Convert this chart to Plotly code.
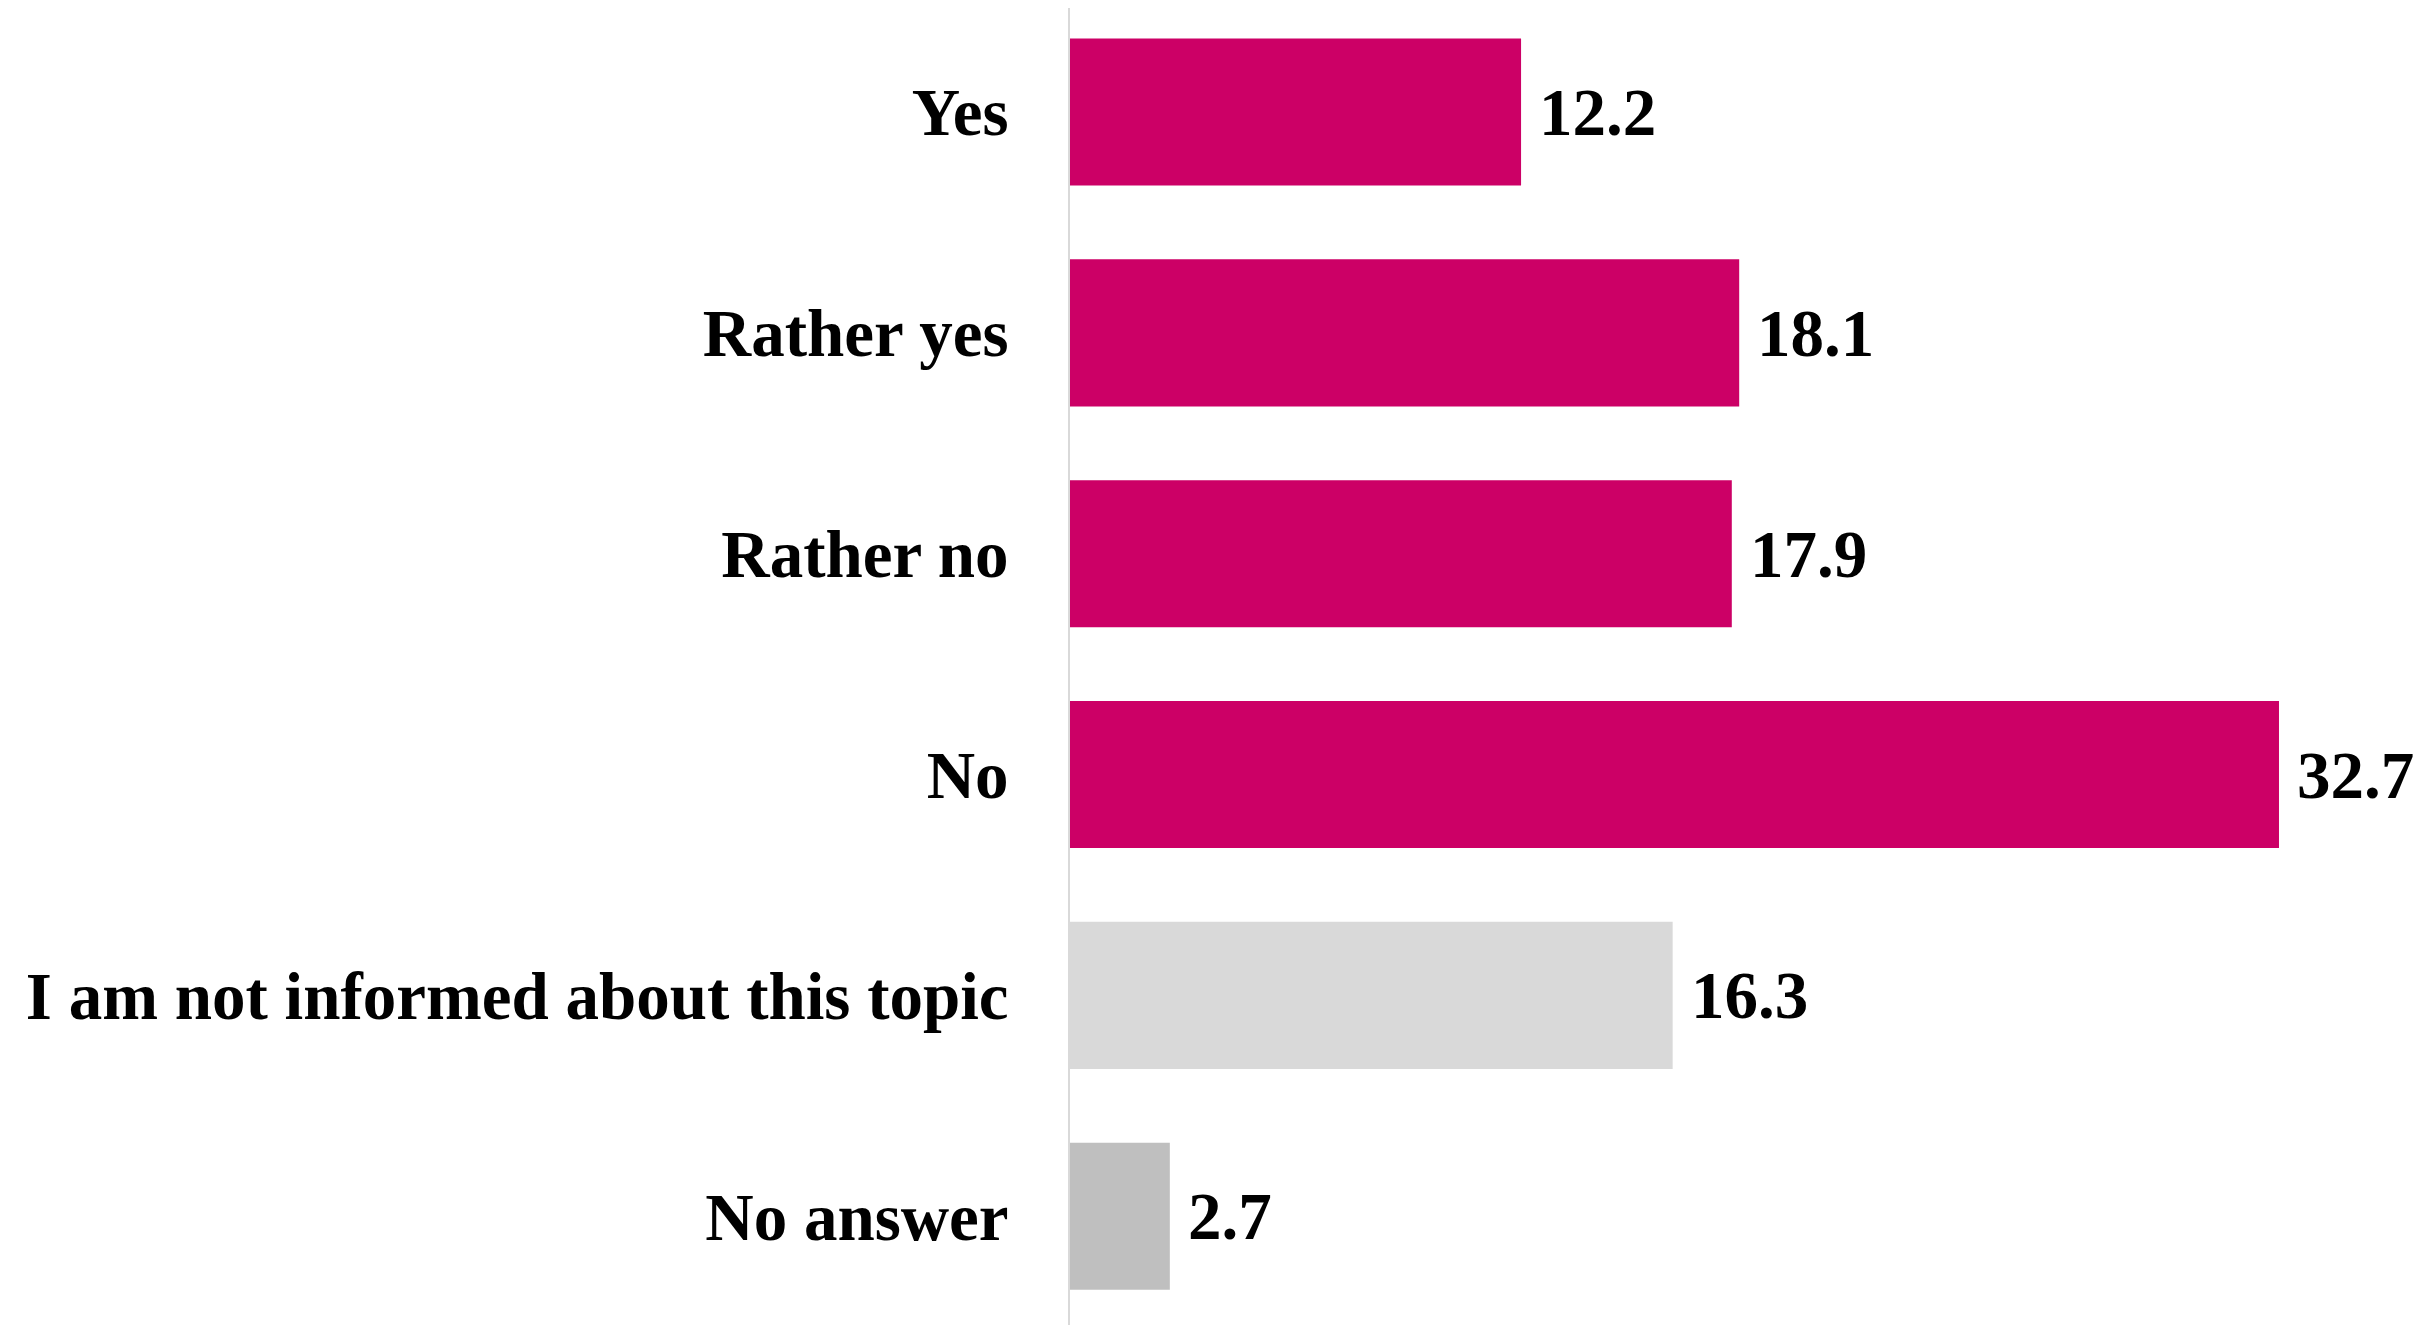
import plotly.graph_objects as go

categories = ['Yes', 'Rather yes', 'Rather no', 'No',
              'I am not informed about this topic', 'No answer']
values = [12.2, 18.1, 17.9, 32.7, 16.3, 2.7]
colors = ['#CC0066', '#CC0066', '#CC0066', '#CC0066', '#D9D9D9', '#BFBFBF']

FONT = 'Liberation Serif'

fig = go.Figure()
fig.add_trace(go.Bar(
    x=values,
    y=categories,
    orientation='h',
    marker=dict(color=colors, line=dict(width=0)),
    hoverinfo='skip',
))

# value labels to the right of each bar
for cat, val in zip(categories, values):
    fig.add_annotation(
        x=val, y=cat,
        text=f'{val:.1f}',
        showarrow=False,
        xanchor='left',
        xshift=16,
        font=dict(family=FONT, size=67, color='black', weight='bold'),
    )

fig.update_layout(
    width=2428, height=1325,
    margin=dict(l=1062, r=35, t=0, b=0),
    plot_bgcolor='white',
    paper_bgcolor='white',
    bargap=0.334,
    showlegend=False,
)
fig.update_xaxes(range=[0, 36], visible=False)
fig.update_yaxes(
    range=[5.529, -0.471],
    showline=True, linecolor='#D9D9D9', linewidth=2,
    showgrid=False, ticks='',
    ticklabelstandoff=46,
    tickfont=dict(family=FONT, size=67, color='black', weight='bold'),
)

fig.write_html('out.html')
